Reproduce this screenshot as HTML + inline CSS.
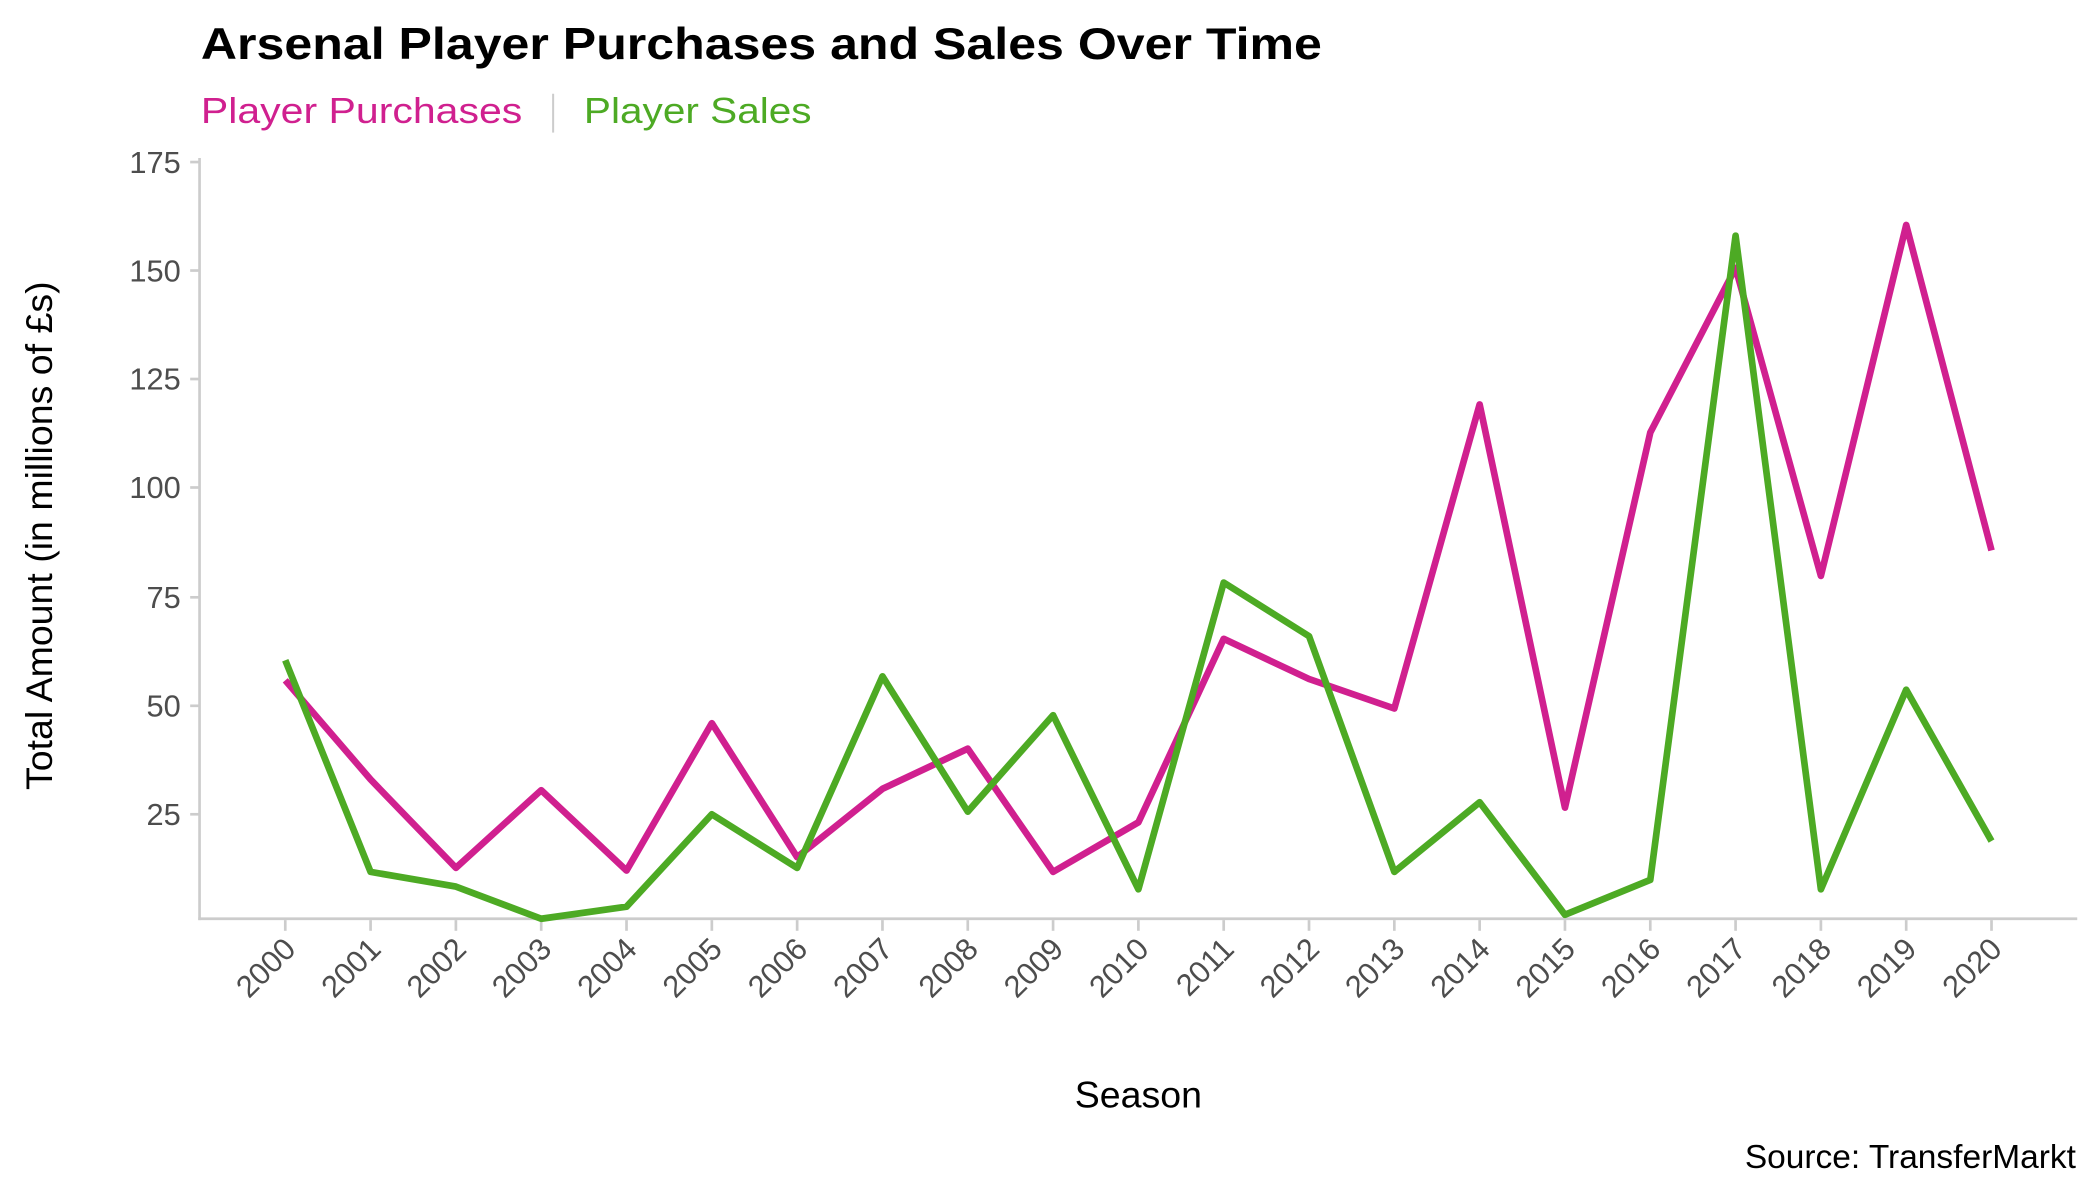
<!DOCTYPE html>
<html><head><meta charset="utf-8"><style>
html,body{margin:0;padding:0;background:#fff;}
svg{display:block;font-family:"Liberation Sans",Arial,sans-serif;}
</style></head><body>
<svg width="2100" height="1200" viewBox="0 0 1568 896" preserveAspectRatio="none" xmlns="http://www.w3.org/2000/svg">
<text x="150" y="44" font-size="33" font-weight="bold" fill="#000" textLength="837" lengthAdjust="spacingAndGlyphs">Arsenal Player Purchases and Sales Over Time</text>
<text x="150" y="92" font-size="27" fill="#d0208f" textLength="240" lengthAdjust="spacingAndGlyphs">Player Purchases</text>
<line x1="413" y1="70" x2="413" y2="99" stroke="#ccc" stroke-width="1.5"/>
<text x="436" y="92" font-size="27" fill="#4daa24" textLength="170" lengthAdjust="spacingAndGlyphs">Player Sales</text>
<g stroke="#cccccc" stroke-width="2" fill="none">
<line x1="149" y1="118" x2="149" y2="687"/>
<line x1="148" y1="686" x2="1551" y2="686"/>
<line x1="142" y1="121" x2="149" y2="121"/><line x1="142" y1="202" x2="149" y2="202"/><line x1="142" y1="283" x2="149" y2="283"/><line x1="142" y1="364" x2="149" y2="364"/><line x1="142" y1="446" x2="149" y2="446"/><line x1="142" y1="527" x2="149" y2="527"/><line x1="142" y1="608" x2="149" y2="608"/>
</g>
<g font-size="23" fill="#4d4d4d" text-anchor="end">
<text x="135" y="129">175</text><text x="135" y="210">150</text><text x="135" y="291">125</text><text x="135" y="372">100</text><text x="135" y="454">75</text><text x="135" y="535">50</text><text x="135" y="616">25</text>
</g>
<g id="xt" stroke="#cccccc" stroke-width="2"></g>
<g id="xl" font-size="23" fill="#4d4d4d" text-anchor="end"></g>
<text x="850" y="827" font-size="28" fill="#000" text-anchor="middle">Season</text>
<text transform="translate(39,400) rotate(-90)" font-size="28" fill="#000" text-anchor="middle">Total Amount (in millions of £s)</text>
<text x="1550" y="872" font-size="25" fill="#000" text-anchor="end">Source: TransferMarkt</text>
<polyline id="pp" fill="none" stroke="#d0208f" stroke-width="5" stroke-linejoin="round"/>
<polyline id="ps" fill="none" stroke="#4daa24" stroke-width="5" stroke-linejoin="round"/>
<script>
var ns="http://www.w3.org/2000/svg";
var pur=[508,582,648,590,650,540,640,589,559,651,614,477,507,529,302,603,323,200,430,168,411];
var sal=[493,651,662,686,677,608,648,505,606,534,664,435,475,651,599,683,657,176,664,515,628];
var xt=document.getElementById('xt'),xl=document.getElementById('xl');
var a=[],b=[];
for(var i=0;i<21;i++){var x=213+i*63.7;
a.push(x+','+pur[i]);b.push(x+','+sal[i]);
var l=document.createElementNS(ns,'line');l.setAttribute('x1',x);l.setAttribute('x2',x);l.setAttribute('y1',687);l.setAttribute('y2',695);xt.appendChild(l);
var t=document.createElementNS(ns,'text');t.setAttribute('transform','translate('+(x+9)+',710) rotate(-45)');t.textContent=2000+i;xl.appendChild(t);}
document.getElementById('pp').setAttribute('points',a.join(' '));
document.getElementById('ps').setAttribute('points',b.join(' '));
</script>
</svg>
</body></html>
